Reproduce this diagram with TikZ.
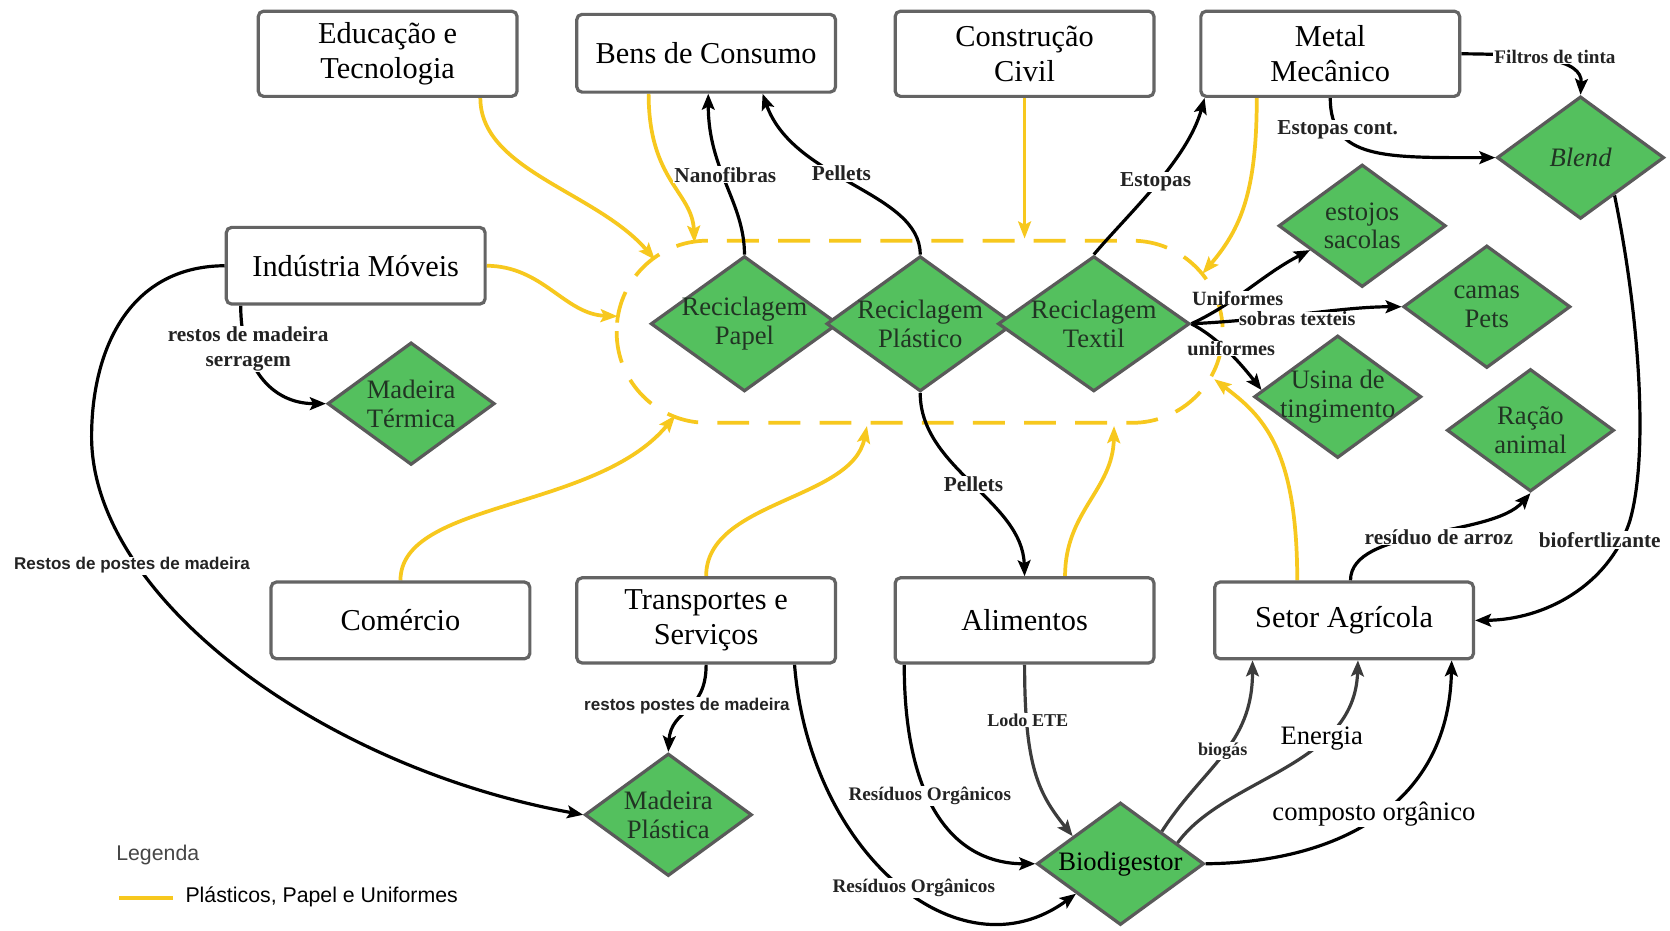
\documentclass[tikz,border=0pt]{standalone}
\usepackage{fontspec}
\setmainfont{Liberation Serif}
\setsansfont{Liberation Sans}
\usetikzlibrary{shapes.geometric,arrows.meta}
\pgfdeclarelayer{background}
\pgfsetlayers{background,main}
\definecolor{boxgray}{RGB}{100,100,100}
\definecolor{dgreen}{RGB}{84,192,94}
\definecolor{dborder}{RGB}{90,90,90}
\definecolor{dtext}{RGB}{33,52,35}
\definecolor{ylw}{RGB}{247,200,30}
\definecolor{lblc}{RGB}{35,35,35}
\definecolor{dline}{RGB}{60,60,60}
\definecolor{leggray}{RGB}{70,70,70}
\begin{document}
\begin{tikzpicture}[x=1pt,y=-1pt,
  box/.style={draw=boxgray, line width=3pt, rounded corners=5pt, fill=white,
    minimum width=243pt, inner sep=0pt, align=center, font=\fontsize{28.5}{33}\selectfont},
  dtxt/.style={text=dtext, align=center, inner sep=0pt, font=\fontsize{25}{27}\selectfont},
  dia/.style={diamond, draw=dborder, line width=3pt, fill=dgreen,
    minimum width=157pt, minimum height=115pt, inner sep=0pt, label={[dtxt]center:#1}},
  bigdia/.style={dia={#1}, minimum width=176pt, minimum height=127pt},
  lbl/.style={fill=white, inner sep=1pt, text=lblc, align=center,
    font=\bfseries\fontsize{20}{23}\selectfont},
  tlbl/.style={lbl, inner sep=0pt, font=\bfseries\fontsize{19}{21}\selectfont},
  slbl/.style={lbl, font=\sffamily\bfseries\fontsize{16}{18}\selectfont},
  rlbl/.style={lbl, text=black, font=\fontsize{25}{27}\selectfont},
  conn/.style={line width=3pt, -{Stealth[length=15pt,width=12pt,inset=3pt]}},
  gconn/.style={conn, draw=dline},
  yconn/.style={line width=3.5pt, draw=ylw, -{Stealth[length=16pt,width=12pt,inset=3pt]}},
  zone/.style={draw=ylw, line width=3.5pt, dash pattern=on 30pt off 18pt, rounded corners=85pt}
]
\useasboundingbox (0,0) rectangle (1568,874);

% sector boxes
\node[box, minimum height=80pt] (edu) at (364,50.5) {Educação e\\Tecnologia};
\node[box, minimum height=73pt] (ben) at (663,50) {Bens de Consumo};
\node[box, minimum height=80pt] (con) at (962,50.5) {Construção\\Civil};
\node[box, minimum height=80pt] (met) at (1249,50.5) {Metal\\Mecânico};
\node[box, minimum height=72pt] (ind) at (334,249.5) {Indústria Móveis};
\node[box, minimum height=72pt] (com) at (376,582.5) {Comércio};
\node[box, minimum height=80pt] (tra) at (663,582.5) {Transportes e\\Serviços};
\node[box, minimum height=80pt] (ali) at (962,582.5) {Alimentos};
\node[box, minimum height=72pt] (agr) at (1262,582.5) {Setor Agrícola};

% recycling diamonds
\node[bigdia={Reciclagem\\Papel}] (pap) at (699,304) {};
\node[bigdia={Reciclagem\\Plástico}] (pla) at (864,304) {};
\node[bigdia={Reciclagem\\Textil}, minimum width=180pt] (tex) at (1027,304) {};

% product diamonds
\node[dia={\itshape Blend}] (bln) at (1484,148) {};
\node[dia={estojos\\sacolas}] (est) at (1279,212) {};
\node[dia={camas\\Pets}] (cam) at (1396,288) {};
\node[dia={Usina de\\tingimento}] (usi) at (1256,372.5) {};
\node[dia={Ração\\animal}] (rac) at (1437,404) {};
\node[dia={Madeira\\Térmica}] (mte) at (386,379) {};
\node[dia={Madeira\\Plástica}] (mpl) at (627.5,765) {};
\node[dia={\color{black}Biodigestor}] (bio) at (1052,811) {};

% end points on the dashed recycling zone
\coordinate (zEdu) at (615,244);
\coordinate (zBen) at (652,228);
\coordinate (zCon) at (962,224);
\coordinate (zMet) at (1129,257);
\coordinate (zInd) at (580,297);
\coordinate (zCom) at (634,390);
\coordinate (zTra) at (814,400);
\coordinate (zAli) at (1046,400);
\coordinate (zAgr) at (1140,356);

\begin{pgfonlayer}{background}
\fill[white] (0,0) rectangle (1568,874);
\draw[zone] (579,226) rectangle (1148,397);

% plastics, paper and uniforms flows
\draw[yconn] ([xshift=87pt]edu.south) .. controls (451,160) and (560,180) .. (zEdu);
\draw[yconn] ([xshift=-54pt]ben.south) .. controls (609,170) and (650,180) .. (zBen);
\draw[yconn] (con.south) -- (zCon);
\draw[yconn] ([xshift=-69pt]met.south) .. controls (1180,180) and (1165,215) .. (zMet);
\draw[yconn] (ind.east) .. controls (510,250) and (530,295) .. (zInd);
\draw[yconn] (com.north) .. controls (376,470) and (560,480) .. (zCom);
\draw[yconn] (tra.north) .. controls (663,470) and (800,470) .. (zTra);
\draw[yconn] ([xshift=38pt]ali.north) .. controls (1000,480) and (1045,460) .. (zAli);
\draw[yconn] ([xshift=-44pt]agr.north) .. controls (1218,420) and (1185,390) .. (zAgr);

% by-product flows
\draw[conn] (pap.north) .. controls (699,190) and (665,160) .. ([xshift=2pt]ben.south);
\draw[conn] (pla.north) .. controls (864,180) and (745,170) .. ([xshift=53pt]ben.south);
\draw[conn] (tex.north) .. controls (1060,200) and (1115,150) .. ([xshift=-118pt]met.south);
\draw[conn] (pla.south) .. controls (864,440) and (960,470) .. (ali.north);
\draw[conn] (met.south) .. controls (1249,150) and (1300,148) .. (bln.west);
\draw[conn] (met.east) .. controls (1440,51) and (1486,55) .. (bln.north);
\draw[conn] (bln.-48) .. controls (1540,300) and (1548,430) .. (1530,490)
  .. controls (1510,550) and (1450,582) .. (agr.east);
\draw[conn] ([xshift=6pt]agr.north) .. controls (1268,495) and (1400,505) .. (rac.south);
\draw[conn] ([xshift=-108pt]ind.south) .. controls (226,345) and (255,379) .. (mte.west);
\draw[conn] (ind.west) .. controls (120,250) and (86,330) .. (86,410)
  .. controls (86,560) and (300,720) .. (mpl.west);
\draw[conn] (tra.south) .. controls (663,670) and (630,665) .. (mpl.north);
\draw[conn] ([xshift=83pt]tra.south) .. controls (760,800) and (900,920) .. (bio.-146);
\draw[conn] ([xshift=-113pt]ali.south) .. controls (849,760) and (900,811) .. (bio.west);
\draw[gconn] (ali.south) .. controls (962,720) and (975,745) .. (bio.150);
\draw[gconn] (bio.38) .. controls (1130,720) and (1176,700) .. ([xshift=-86pt]agr.south);
\draw[gconn] (bio.20) .. controls (1150,730) and (1272,720) .. ([xshift=13pt]agr.south);
\draw[conn] (bio.east) .. controls (1250,810) and (1360,760) .. ([xshift=101pt]agr.south);
\draw[conn] (tex.east) .. controls (1160,285) and (1185,258) .. (est.-155);
\draw[conn] (tex.east) .. controls (1200,300) and (1260,288) .. (cam.west);
\draw[conn] (tex.east) .. controls (1140,315) and (1160,335) .. (usi.175);
\end{pgfonlayer}

% flow labels
\node[lbl] (lNano) at (681,164) {Nanofibras};
\node[lbl] (lPel1) at (790,163) {Pellets};
\node[lbl] (lEsto) at (1085,171) {Estopas};
\node[lbl] (lPel2) at (914,455) {Pellets};
\node[lbl] (lEstc) at (1256,122) {Estopas cont.};
\node[lbl, font=\bfseries\fontsize{18}{20}\selectfont] (lFilt) at (1460,53) {Filtros de tinta};
\node[lbl] (lBiof) at (1502,507) {biofertlizante};
\node[lbl] (lArroz) at (1351,504) {resíduo de arroz};
\node[lbl] (lSerr) at (233,327.5) {restos de madeira\\serragem};
\node[slbl] (lPost1) at (124,531) {Restos de postes de madeira};
\node[slbl] (lPost2) at (645,663) {restos postes de madeira};
\node[lbl, font=\bfseries\fontsize{18}{20}\selectfont] (lRes1) at (858,834) {Resíduos Orgânicos};
\node[lbl, font=\bfseries\fontsize{18}{20}\selectfont] (lRes2) at (873,747) {Resíduos Orgânicos};
\node[lbl, font=\bfseries\fontsize{17}{19}\selectfont] (lLodo) at (965,676) {Lodo ETE};
\node[lbl, font=\bfseries\fontsize{17}{19}\selectfont] (lBiog) at (1148,705) {biogás};
\node[rlbl] (lEner) at (1241,693) {Energia};
\node[rlbl] (lComp) at (1290,764) {composto orgânico};
\node[tlbl] (lUnif) at (1162,280) {Uniformes};
\node[tlbl] (lSobr) at (1218,299.5) {sobras texteis};
\node[tlbl] (lUnif2) at (1156,327) {uniformes};

% legend
\node[anchor=west, inner sep=0pt, text=leggray, font=\sffamily\fontsize{20}{22}\selectfont] (legT) at (109,803) {Legenda};
\coordinate (legA) at (112,843);
\coordinate (legB) at (162,843);
\draw[draw=ylw, line width=3.5pt] (legA) -- (legB);
\node[anchor=west, inner sep=0pt, font=\sffamily\fontsize{20}{22}\selectfont] (legY) at (174,842) {Plásticos, Papel e Uniformes};
\end{tikzpicture}
\end{document}
